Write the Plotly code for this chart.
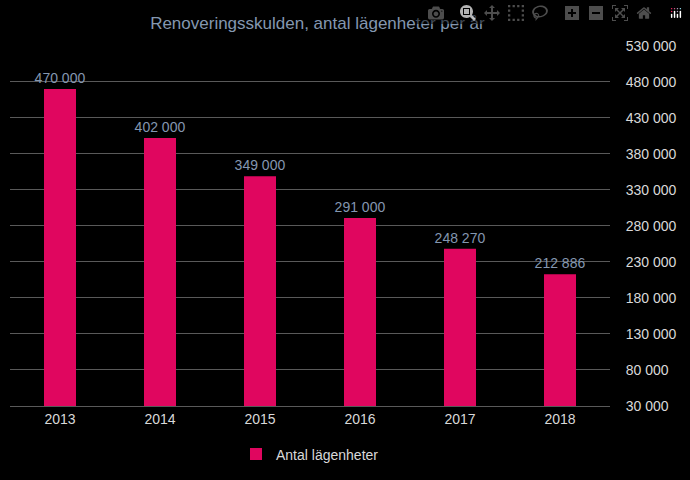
import plotly.graph_objects as go

years = ['2013', '2014', '2015', '2016', '2017', '2018']
apartments = [470000, 402000, 349000, 291000, 248270, 212886]
tick_vals = [30000 + 50000 * i for i in range(11)]

fig = go.Figure()
fig.add_trace(go.Bar(
    x=years, y=apartments, name='Antal lägenheter',
    marker_color='#E0065F', marker_line_width=0, width=0.32,
    text=apartments, texttemplate='%{y:,}', textposition='outside',
    textfont=dict(color='#8497B0', size=14), cliponaxis=False,
))

fig.update_layout(
    title=dict(text='Renoveringsskulden, antal lägenheter per år', x=0.46, y=0.965,
               font=dict(size=17, color='#8497B0')),
    paper_bgcolor='black', plot_bgcolor='black',
    font=dict(family='Liberation Sans, Arial', color='#D9D9D9', size=14),
    separators=', ',
    uniformtext=dict(minsize=14, mode='show'),
    margin=dict(l=10, r=80, t=45, b=65),
    xaxis=dict(showgrid=False, linecolor='#595959', tickfont=dict(color='#D9D9D9')),
    yaxis=dict(side='right', range=[30000, 531000], tickvals=tick_vals, tickformat=',',
               gridcolor='#595959', zeroline=False, tickfont=dict(color='#D9D9D9'),
               ticks='outside', ticklen=12, tickcolor='black'),
    showlegend=True,
    legend=dict(orientation='h', x=0.5, xanchor='center', y=-0.09, yanchor='top',
                font=dict(color='#D9D9D9', size=14)),
)

fig.write_html('out.html', default_width='100%', default_height='100%',
               config={'responsive': True})
with open('out.html') as f:
    html = f.read()
html = html.replace('<head>', '<head><style>html,body{margin:0;height:100%;background:black;}</style>', 1)
with open('out.html', 'w') as f:
    f.write(html)
